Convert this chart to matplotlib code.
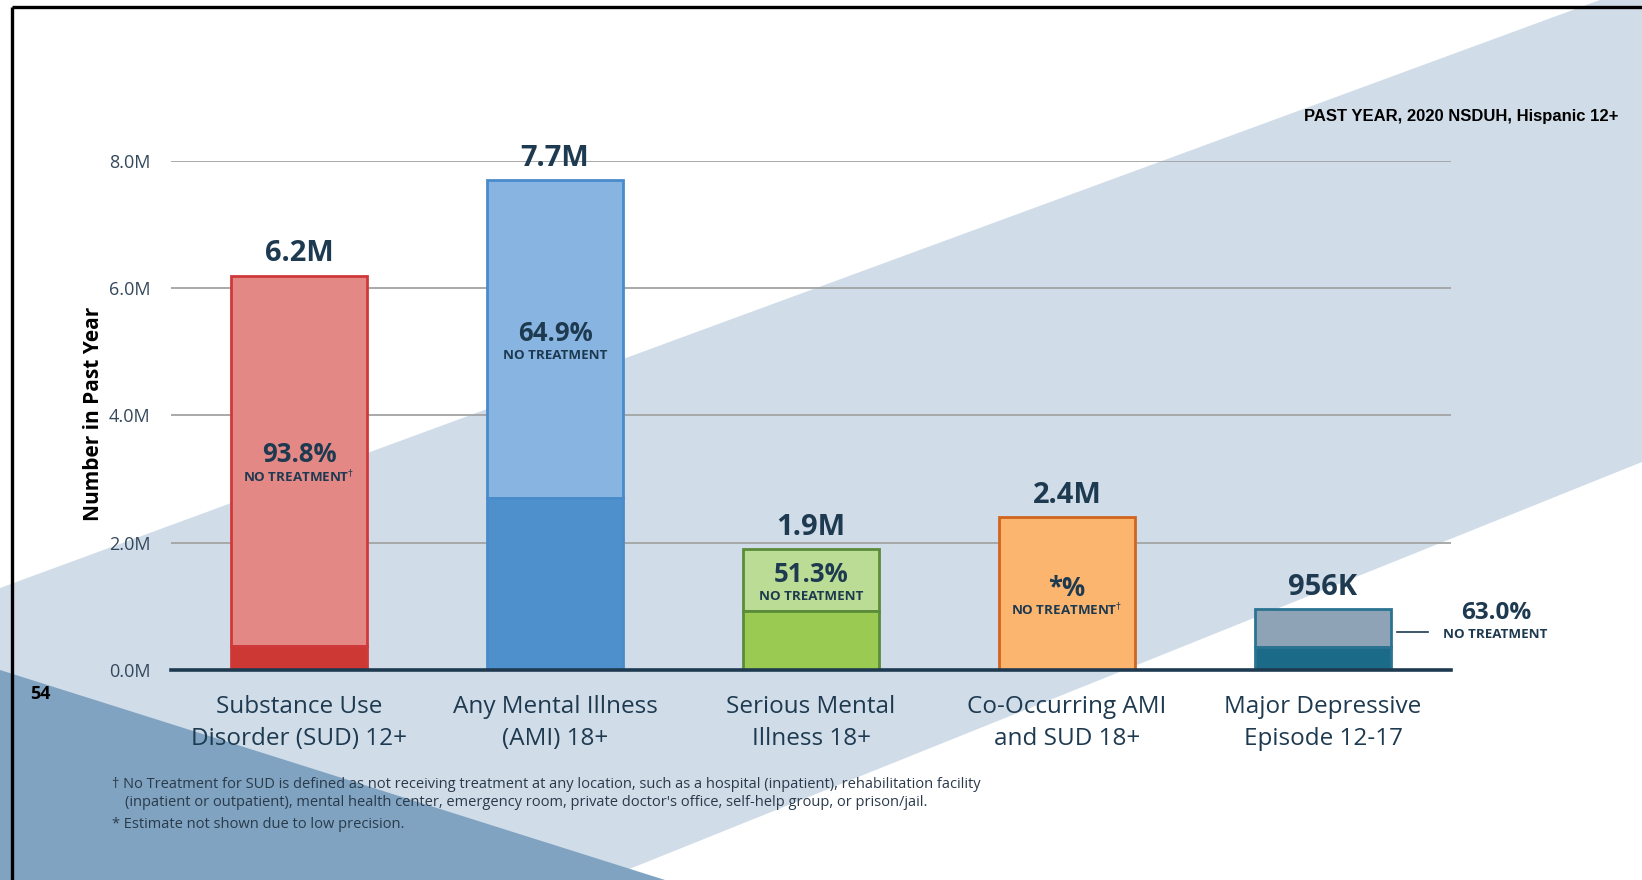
import matplotlib
matplotlib.use("Agg")
import matplotlib.pyplot as plt
from matplotlib.patches import Polygon
from matplotlib.ticker import FuncFormatter
from matplotlib.transforms import offset_copy

# ---------------- data ----------------
categories = ["Substance Use\nDisorder (SUD) 12+", "Any Mental Illness\n(AMI) 18+",
              "Serious Mental\nIllness 18+", "Co-Occurring AMI\nand SUD 18+",
              "Major Depressive\nEpisode 12-17"]
totals_m = [6.2, 7.7, 1.9, 2.4, 0.956]
total_labels = ["6.2M", "7.7M", "1.9M", "2.4M", "956K"]
no_tx_pct = [93.8, 64.9, 51.3, None, 63.0]
pct_labels = ["93.8%", "64.9%", "51.3%", "*%", "63.0%"]
nt_labels = [r"NO TREATMENT$^{\dagger}$", "NO TREATMENT", "NO TREATMENT",
             r"NO TREATMENT$^{\dagger}$", "NO TREATMENT"]
yticks = [0, 2, 4, 6, 8]

light_colors = ["#E48886", "#88B4E1", "#BADC94", "#FBB56F", "#8FA3B6"]
dark_colors = ["#CD3834", "#4E90CC", "#9ACA52", "#FBB56F", "#1B6A87"]
edge_colors = ["#D0393A", "#4A8BCB", "#5B8C3A", "#D0661E", "#2A7391"]

footnote1 = ("\u2020 No Treatment for SUD is defined as not receiving treatment at any location, "
             "such as a hospital (inpatient), rehabilitation facility")
footnote2 = ("(inpatient or outpatient), mental health center, emergency room, private doctor's "
             "office, self-help group, or prison/jail.")
footnote3 = "* Estimate not shown due to low precision."

NAVY = "#1E3A50"
FONT = ["Open Sans", "DejaVu Sans"]
plt.rcParams["font.family"] = FONT
plt.rcParams["mathtext.fontset"] = "dejavusans"

W, H = 1642, 880
fig = plt.figure(figsize=(W / 100, H / 100), dpi=100)
fig.patch.set_facecolor("white")

# ---------------- background ----------------
bg = fig.add_axes([0, 0, 1, 1], zorder=0)
bg.set_xlim(0, W)
bg.set_ylim(H, 0)
bg.axis("off")
band = Polygon([(0, 588), (1600, 0), (W, 0), (W, 462), (602, H), (0, H)],
               closed=True, facecolor="#D0DCE8", edgecolor="none")
bg.add_patch(band)
tri = Polygon([(0, 670), (665, H), (0, H)], closed=True,
              facecolor="#7FA3C0", edgecolor="none")
bg.add_patch(tri)
bg.plot([12, 12], [7, H], color="black", lw=2.4, solid_capstyle="butt")
bg.plot([12, W], [7, 7], color="black", lw=2.4, solid_capstyle="butt")
bg.text(40, 694, "54", fontsize=13, fontweight="bold", color="black",
        ha="center", va="center")
bg.text(1618, 117, "PAST YEAR, 2020 NSDUH, Hispanic 12+", family=["Liberation Sans"],
        fontsize=12, fontweight="bold", color="black", ha="right", va="center")
bg.text(112, 785, footnote1, fontsize=10.5, color="#2A3A4A", ha="left", va="center")
bg.text(125, 803, footnote2, fontsize=10.5, color="#2A3A4A", ha="left", va="center")
bg.text(112, 824, footnote3, fontsize=10.5, color="#2A3A4A", ha="left", va="center")

# ---------------- main axes ----------------
left, right, top, bottom = 171, 1451, 161, 670
ax = fig.add_axes([left / W, 1 - bottom / H, (right - left) / W, (bottom - top) / H], zorder=1)
ax.set_facecolor("none")
ax.set_xlim(-0.5, 4.5)
ax.set_ylim(0, 8)

ax.set_yticks(yticks)
ax.yaxis.set_major_formatter(FuncFormatter(lambda v, p: f"{v:.1f}M"))
ax.tick_params(axis="y", length=0, pad=15, labelsize=13, labelcolor="#34485C")
ax.grid(axis="y", color="#A3A3A3", lw=1.3)
ax.set_axisbelow(True)
for s in ["left", "right", "top"]:
    ax.spines[s].set_visible(False)
ax.spines["bottom"].set_color(NAVY)
ax.spines["bottom"].set_linewidth(2.6)
ax.spines["bottom"].set_zorder(5)

ax.set_xticks(range(len(categories)))
ax.set_xticklabels(categories, fontsize=17.5, color=NAVY, linespacing=1.47)
ax.tick_params(axis="x", length=0, pad=18)

ax.set_ylabel("Number in Past Year", fontsize=15, fontweight="bold", color="black")
ax.yaxis.set_label_coords(-0.0527, 0.503)

bw = 0.53
for i, tot in enumerate(totals_m):
    pct = no_tx_pct[i]
    treated = 0 if pct is None else tot * (1 - pct / 100)
    ax.bar(i, tot - treated, bottom=treated, width=bw, color=light_colors[i],
           edgecolor=edge_colors[i], linewidth=2, zorder=2)
    if treated > 0:
        ax.bar(i, treated, width=bw, color=dark_colors[i], edgecolor=edge_colors[i],
               linewidth=2, zorder=2)
    ax.annotate(total_labels[i], (i, tot), xytext=(0, 15.5), textcoords="offset points",
                ha="center", va="center", fontsize=21, fontweight="bold", color=NAVY,
                annotation_clip=False)
    mid = (treated + tot) / 2
    if tot >= 1.0:
        ax.annotate(pct_labels[i], (i, mid), xytext=(0, 4), textcoords="offset points",
                    ha="center", va="center", fontsize=18.5, fontweight="bold", color=NAVY)
        ax.annotate(nt_labels[i], (i, mid), xytext=(0, -12), textcoords="offset points",
                    ha="center", va="center", fontsize=9.6, fontweight="bold", color=NAVY)
    else:
        xr = i + bw / 2
        trans = offset_copy(ax.transData, fig=fig, x=0, y=-4, units="dots")
        ax.plot([xr + 0.024, xr + 0.145], [mid, mid], transform=trans, color=NAVY,
                lw=1.2, clip_on=False)
        ax.annotate(pct_labels[i], (xr, mid), xytext=(76, 11), textcoords="offset points",
                    ha="center", va="center", fontsize=17.5, fontweight="bold", color=NAVY,
                    annotation_clip=False)
        ax.annotate(nt_labels[i], (xr, mid), xytext=(75, -4.5), textcoords="offset points",
                    ha="center", va="center", fontsize=9.6, fontweight="bold", color=NAVY,
                    annotation_clip=False)

fig.savefig("out.png", dpi=100)
